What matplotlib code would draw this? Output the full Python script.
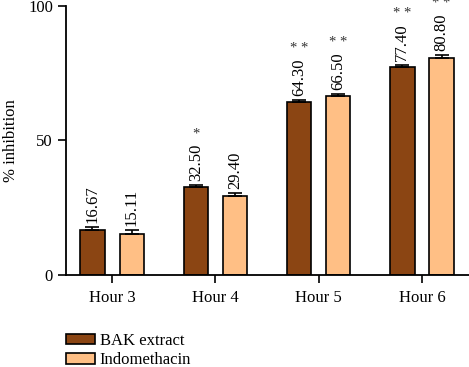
import numpy as np
import matplotlib
matplotlib.use('Agg')
import matplotlib.pyplot as plt

plt.rcParams['font.family'] = ['Liberation Serif', 'DejaVu Serif']

hours = ['Hour 3', 'Hour 4', 'Hour 5', 'Hour 6']
bak = [16.67, 32.50, 64.30, 77.40]
indo = [15.11, 29.40, 66.50, 80.80]
bak_err = [1.2, 0.8, 0.7, 0.7]
indo_err = [1.5, 1.0, 0.6, 0.9]
bak_sig = ['', '*', '* *', '* *']
indo_sig = ['', '', '* *', '* *']

c_bak = '#8B4513'
c_indo = '#FFBF85'

fig = plt.figure(figsize=(4.69, 3.67), dpi=100)
ax = fig.add_axes([0.141, 0.251, 0.859, 0.733])

x = np.arange(len(hours))
w = 0.235
off = 0.19

b1 = ax.bar(x - off, bak, w, color=c_bak, edgecolor='black', linewidth=1.2,
            label='BAK extract')
b2 = ax.bar(x + off, indo, w, color=c_indo, edgecolor='black', linewidth=1.2,
            label='Indomethacin')
ax.errorbar(x - off, bak, yerr=[np.zeros(4), bak_err], fmt='none',
            ecolor='black', elinewidth=1.2, capsize=5, capthick=1.2)
ax.errorbar(x + off, indo, yerr=[np.zeros(4), indo_err], fmt='none',
            ecolor='black', elinewidth=1.2, capsize=5, capthick=1.2)

for xs, vals, errs, sigs in [(x - off, bak, bak_err, bak_sig),
                              (x + off, indo, indo_err, indo_sig)]:
    for xi, v, e, s in zip(xs, vals, errs, sigs):
        ax.annotate('%.2f' % v, (xi, v + e), xytext=(0, 3),
                    textcoords='offset points', rotation=90,
                    ha='center', va='bottom', fontsize=12,
                    annotation_clip=False)
        if s:
            ax.annotate(s, (xi, v + e), xytext=(0, 37),
                        textcoords='offset points', ha='center',
                        va='center', fontsize=10.5, color='#333333',
                        annotation_clip=False)

ax.set_xlim(-0.445, 3.455)
ax.set_ylim(0, 100)
ax.set_yticks([0, 50, 100])
ax.set_xticks(x)
ax.set_xticklabels(hours, fontsize=12)
ax.tick_params(axis='y', labelsize=12, length=6, width=1.2)
ax.tick_params(axis='x', length=6, width=1.2, pad=5)
ax.set_ylabel('% inhibition', fontsize=12)
ax.yaxis.set_label_coords(-0.118, 0.5)
for sp in ['top', 'right']:
    ax.spines[sp].set_visible(False)
for sp in ['left', 'bottom']:
    ax.spines[sp].set_linewidth(1.3)

fig.legend(handles=[b1, b2], loc='upper left', bbox_to_anchor=(0.124, 0.116),
           frameon=False, fontsize=12, handlelength=1.7, handleheight=0.6,
           handletextpad=0.3, labelspacing=0.2, borderpad=0)

fig.savefig('out.png', dpi=100)
